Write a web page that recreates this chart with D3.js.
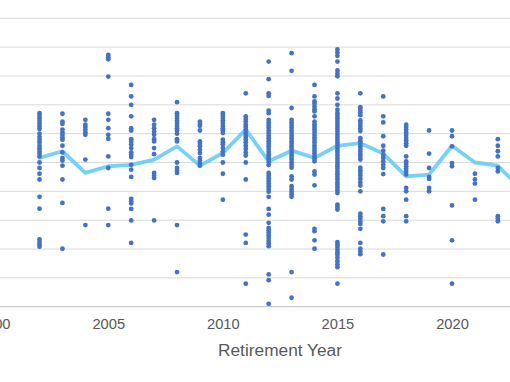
<!DOCTYPE html>
<html>
<head>
<meta charset="utf-8">
<script src="https://cdn.jsdelivr.net/npm/d3@7"></script>
<style>
  html, body { margin: 0; padding: 0; background: #ffffff; }
  svg { display: block; }
</style>
</head>
<body>
<svg id="chart" width="510" height="382"></svg>
<script>
// ---- Data ----
const years = [2002, 2003, 2004, 2005, 2006, 2007, 2008, 2009, 2010, 2011, 2012,
               2013, 2014, 2015, 2016, 2017, 2018, 2019, 2020, 2021, 2022];

const valuesByYear = [
  [6.71,6.62,6.53,6.44,6.34,6.25,6.16,6.0,5.88,5.79,5.70,5.58,5.49,5.40,5.31,5.21,5.0,4.81,4.61,4.41,3.81,3.40,2.33,2.24,2.16,2.08],
  [6.69,6.42,6.34,6.14,6.04,5.96,5.87,5.79,5.58,5.35,5.16,5.07,4.89,4.41,3.60,2.01],
  [6.48,6.31,6.23,6.14,6.04,5.96,5.10,2.83],
  [8.73,8.65,8.58,7.98,6.69,6.48,6.19,5.96,5.82,5.21,4.81,3.40,2.83],
  [7.69,7.29,7.0,6.6,6.19,6.11,5.81,5.73,5.62,5.50,5.35,5.27,5.19,4.92,4.75,4.5,3.74,3.66,3.58,3.39,2.99,2.21],
  [6.48,6.31,6.19,6.07,5.96,5.81,5.73,5.50,5.29,4.64,4.54,4.46,2.99],
  [7.09,6.71,6.62,6.54,6.45,6.37,6.27,6.19,6.11,6.0,5.81,5.73,5.0,4.81,4.72,4.64,2.83,1.2],
  [6.42,6.34,6.27,6.11,5.73,5.65,5.56,5.44,5.33,5.16,5.07,4.96,4.89],
  [6.71,6.62,6.54,6.46,6.37,6.27,6.19,6.11,6.02,5.79,5.70,5.62,5.50,5.38,5.27,5.0,4.61,3.71],
  [7.40,6.60,6.51,6.42,6.31,6.23,6.14,6.04,5.96,5.88,5.79,5.70,5.58,5.47,5.35,5.24,5.0,4.41,2.50,2.21,0.80],
  [8.50,7.89,7.40,7.31,6.80,6.71,6.48,6.39,6.30,6.21,6.11,6.02,5.93,5.84,5.74,5.65,5.56,5.47,5.37,5.28,5.19,5.10,5.0,4.91,
   4.64,4.54,4.45,4.36,4.27,4.18,4.08,3.99,3.81,3.39,3.19,2.91,2.73,2.65,2.56,2.47,2.38,2.28,2.19,2.10,1.12,0.92,0.10],
  [8.79,8.18,6.89,6.48,6.39,6.30,6.21,6.11,6.02,5.93,5.84,5.74,5.65,5.56,5.47,5.37,5.28,5.19,5.10,5.0,4.91,4.82,
   4.52,4.41,4.18,4.08,3.99,3.90,3.81,1.20,0.31],
  [7.69,7.29,7.12,7.04,6.94,6.85,6.77,6.60,6.42,6.33,6.24,6.15,6.06,5.96,5.87,5.78,5.69,5.59,5.50,5.41,5.32,5.22,5.13,5.04,
   4.69,4.58,4.21,2.70,2.62,2.30,2.01],
  [8.92,8.81,8.70,8.50,8.19,8.08,7.99,7.40,7.22,7.0,6.83,6.71,6.62,6.53,6.44,6.34,6.25,6.16,6.07,5.97,5.88,5.79,5.70,5.61,
   5.51,5.42,5.33,5.24,5.14,5.05,4.96,4.87,4.78,4.68,4.59,4.50,4.41,4.31,4.22,4.13,4.04,3.94,3.54,3.46,3.37,
   2.24,2.16,2.08,1.98,1.89,1.81,1.70,1.58,1.47,1.37,0.80],
  [7.40,6.92,6.83,6.74,6.64,6.46,6.37,6.27,6.18,6.09,5.84,5.74,5.65,5.56,5.47,5.37,5.28,5.19,5.10,4.82,4.73,4.64,4.54,
   4.43,4.31,4.20,4.0,3.23,3.14,3.05,2.95,2.87,2.70,2.21,2.01,1.91,1.82],
  [7.29,6.60,6.39,5.91,5.58,5.41,5.27,5.16,5.04,4.92,4.81,4.60,3.39,3.14,2.96,1.81],
  [6.31,6.23,6.14,6.04,5.95,5.86,5.77,5.67,5.58,5.21,5.04,4.96,4.87,4.78,4.68,4.58,4.12,4.0,3.71,3.14,2.96],
  [6.11,5.31,4.81,4.50,4.43,4.12,4.0],
  [6.11,5.91,5.56,4.98,4.87,3.51,2.30,0.80],
  [4.61,4.41,4.27,3.71],
  [5.81,5.58,5.39,5.21,4.81,4.69,3.14,3.05,2.96]
];

const avgYears  = [2002, 2003, 2004, 2005, 2006, 2007, 2008, 2009, 2010, 2011, 2012,
                   2013, 2014, 2015, 2016, 2017, 2018, 2019, 2020, 2021, 2022, 2023];
const avgValues = [5.16, 5.39, 4.64, 4.87, 4.92, 5.10, 5.56, 4.89, 5.33, 6.14, 5.04,
                   5.41, 5.16, 5.58, 5.67, 5.31, 4.52, 4.58, 5.58, 5.0, 4.89, 4.09];

const xTickLabels = [2000, 2005, 2010, 2015, 2020];
const yGridValues = [0,1,2,3,4,5,6,7,8,9,10];
const xTitle = "Retirement Year";

// ---- Layout ----
const svg = d3.select("#chart");
const W = 510, H = 382;
const perYear = 22.915;
const x0 = -6.3; // position of year 2000 (chart is cropped on the left)
const x = d3.scaleLinear().domain([2000, 2025]).range([x0, x0 + 25 * perYear]);
const y = d3.scaleLinear().domain([0, 10]).range([306.7, 18.3]);

// gridlines
svg.append("g")
  .selectAll("line")
  .data(yGridValues.filter(v => v > 0))
  .join("line")
  .attr("x1", 0).attr("x2", W)
  .attr("y1", d => y(d)).attr("y2", d => y(d))
  .attr("stroke", "#d9d9d9")
  .attr("stroke-width", 1);

// x axis
const xAxis = d3.axisBottom(x)
  .tickValues(xTickLabels)
  .tickFormat(d3.format("d"))
  .tickSize(0)
  .tickPadding(12);

const gx = svg.append("g")
  .attr("transform", `translate(0,${y(0)})`)
  .call(xAxis);
gx.select(".domain").remove();
gx.append("line")
  .attr("x1", 0).attr("x2", W)
  .attr("stroke", "#bfbfbf").attr("stroke-width", 1);
gx.selectAll("text")
  .attr("fill", "#595959")
  .attr("font-family", "'Liberation Sans', Arial, sans-serif")
  .attr("font-size", "14.7px");

// axis title
svg.append("text")
  .attr("x", 280)
  .attr("y", 356)
  .attr("text-anchor", "middle")
  .attr("fill", "#595959")
  .attr("font-family", "'Liberation Sans', Arial, sans-serif")
  .attr("font-size", "17.3px")
  .text(xTitle);

// average line (drawn beneath the points)
const line = d3.line()
  .x((d, i) => x(avgYears[i]))
  .y(d => y(d));
svg.append("path")
  .datum(avgValues)
  .attr("d", line)
  .attr("fill", "none")
  .attr("stroke", "#62c8f3")
  .attr("stroke-opacity", 0.85)
  .attr("stroke-width", 3.8)
  .attr("stroke-linejoin", "round")
  .attr("stroke-linecap", "round");

// points
const pts = [];
years.forEach((yr, i) => valuesByYear[i].forEach(v => pts.push({yr, v})));
svg.append("g")
  .selectAll("circle")
  .data(pts)
  .join("circle")
  .attr("cx", d => x(d.yr))
  .attr("cy", d => y(d.v))
  .attr("r", 2.4)
  .attr("fill", "#4472c4");
</script>
</body>
</html>
